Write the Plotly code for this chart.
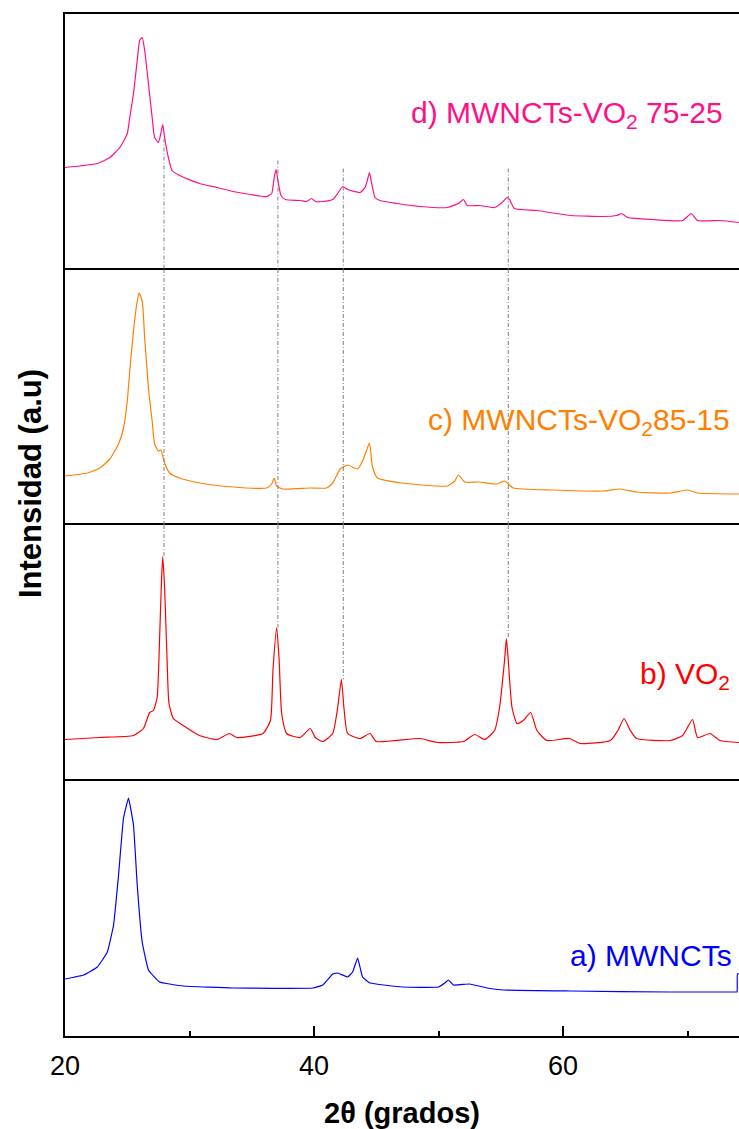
import plotly.graph_objects as go
from plotly.subplots import make_subplots

# ---------------- data (2theta in degrees, intensity in arbitrary units) ----------------
x_d = [20.0, 22.6, 23.6, 24.4, 25.0, 25.2, 25.5, 25.8, 26.0, 26.2, 26.4, 26.7, 27.0, 27.2, 27.5,
       27.7, 27.85, 28.0, 28.3, 28.6, 29.2, 30.8, 32.2, 33.5, 34.9, 36.2, 36.6, 36.8, 36.95, 37.1,
       37.35, 37.7, 38.9, 39.4, 39.8, 40.1, 40.7, 41.5, 41.9, 42.3, 42.7, 43.7, 44.1, 44.3, 44.45,
       44.6, 44.9, 45.3, 46.7, 48.5, 50.7, 51.6, 52.0, 52.3, 53.3, 54.5, 55.1, 55.5, 55.7, 56.1, 57.9,
       60.6, 63.2, 64.3, 64.7, 65.2, 67.2, 69.6, 70.3, 70.8, 72.6, 74.13]
y_d = [102, 106, 112, 122, 136, 152, 176, 209, 229, 232, 219, 186, 152, 132, 127,
       136, 145, 132, 112, 99, 94, 86, 82, 78, 75, 73, 76, 92, 100, 89,
       74, 70, 69, 68, 71, 68, 68, 70, 76, 83, 80, 77, 82, 90, 97,
       88, 72, 69, 66, 63, 62, 66, 70, 64, 64, 62, 67, 72, 70, 61, 59,
       54, 53, 54, 56, 52, 50, 49, 56, 49, 49, 47]

x_c = [20.0, 21.8, 22.8, 23.6, 24.3, 24.7, 25.0, 25.2, 25.5, 25.8, 25.95, 26.2, 26.4, 26.7, 27.0,
       27.2, 27.5, 27.7, 28.0, 28.4, 29.2, 30.8, 33.5, 36.2, 36.6, 36.8, 37.0, 37.5, 39.7, 41.0,
       41.5, 42.1, 42.7, 43.5, 43.9, 44.2, 44.45, 44.7, 45.1, 47.1, 50.7, 51.3, 51.6, 52.1, 53.3,
       54.7, 55.3, 56.0, 59.2, 63.2, 64.6, 65.9, 68.6, 70.0, 70.8, 74.13]
y_c = [49, 52, 57, 66, 81, 97, 124, 154, 194, 224, 232, 224, 187, 137, 104,
       81, 74, 75, 62, 52, 47, 42, 38, 37, 41, 47, 39, 36, 37, 37,
       42, 56, 60, 56, 64, 74, 82, 58, 47, 42, 39, 44, 50, 43, 43,
       41, 44, 37, 35, 34, 36, 33, 32, 35, 32, 31]

x_b = [20.0, 22.8, 25.5, 26.3, 26.8, 27.1, 27.4, 27.6, 27.75, 27.85, 28.0, 28.2, 28.35, 28.7, 29.5,
       30.8, 32.2, 33.2, 33.8, 35.9, 36.5, 36.7, 37.0, 37.2, 37.4, 37.8, 38.9, 39.7, 40.1, 40.7,
       41.5, 41.9, 42.2, 42.4, 42.7, 43.7, 44.5, 45.0, 48.5, 49.9, 52.0, 52.9, 53.7, 54.5, 54.9,
       55.3, 55.45, 55.6, 55.9, 56.3, 56.8, 57.4, 57.9, 58.7, 60.5, 61.4, 63.8, 64.4, 64.9, 65.4,
       65.9, 68.6, 69.6, 70.4, 70.8, 71.8, 72.6, 74.13]
y_b = [41, 43, 45, 52, 68, 70, 83, 143, 200, 224, 193, 120, 77, 62, 55,
       45, 41, 47, 43, 47, 60, 110, 153, 120, 67, 47, 43, 52, 43, 39,
       47, 73, 101, 73, 47, 42, 47, 39, 42, 38, 39, 46, 41, 50, 73,
       120, 142, 120, 73, 57, 60, 68, 50, 40, 42, 37, 40, 50, 62, 50,
       42, 40, 45, 61, 43, 47, 40, 38]

x_a = [20.0, 21.5, 22.6, 23.4, 23.9, 24.3, 24.7, 25.1, 25.5, 25.8, 26.2, 26.7, 27.6, 29.5, 33.5,
       39.9, 40.7, 41.5, 41.9, 42.7, 43.1, 43.5, 43.9, 44.5, 47.1, 50.0, 50.5, 50.8, 51.2, 52.5,
       53.9, 55.2, 60.6, 68.6, 73.9, 73.98, 74.0, 74.13]
y_a = [57, 61, 69, 84, 111, 161, 218, 238, 211, 151, 94, 66, 54, 50, 48,
       48, 51, 62, 63, 59, 64, 78, 59, 53, 49, 49, 53, 56, 51, 52,
       48, 46, 45, 44, 44, 44, 62, 62]

# reference lines linking VO2 reflections across patterns
ref_pos = [27.95, 37.1, 42.35, 55.6]
ref_start_d = [131, 109, 101, 101]   # where the guide starts in pattern d
ref_end_b = [224, 153, 101, 142]     # where the guide ends in pattern b

# label, x, y, colour, label x, label y, label anchor, spline smoothing
panels = [
    ("d) MWNCTs-VO<sub>2</sub> 75-25", x_d, y_d, "#FF1088", 73.0, 155, "right", 0.5),
    ("c) MWNCTs-VO<sub>2</sub>85-15", x_c, y_c, "#FF8000", 73.6, 104, "right", 0.5),
    ("b) VO<sub>2</sub>", x_b, y_b, "#FF0000", 73.6, 105, "right", 0.5),
    ("a) MWNCTs", x_a, y_a, "#0000FF", 60.4, 81, "left", 0.3),
]

x_range = [20, 74.13]
y_range = [0, 255.5]

FONT = "Arial, Liberation Sans, sans-serif"

fig = make_subplots(rows=4, cols=1, shared_xaxes=True, vertical_spacing=0)

for i, (label, xs, ys, col, lx, ly, anc, sm) in enumerate(panels):
    r = i + 1
    fig.add_trace(go.Scatter(x=xs, y=ys, mode="lines",
                             line=dict(color=col, width=1.2, shape="spline", smoothing=sm),
                             showlegend=False, hoverinfo="skip"), row=r, col=1)
    yname = "y" if r == 1 else f"y{r}"
    fig.add_annotation(x=lx, y=ly, xref="x" if r == 1 else f"x{r}", yref=yname,
                       text=label, showarrow=False, xanchor=anc, yanchor="middle",
                       font=dict(family=FONT, size=30, color=col))
    fig.update_yaxes(range=y_range, showline=True, linewidth=2, linecolor="black",
                     showgrid=False, zeroline=False, showticklabels=False, ticks="",
                     row=r, col=1)
    if r < 4:
        fig.update_xaxes(range=x_range, showline=True, mirror=False, side="top", linewidth=2,
                         linecolor="black", showgrid=False, zeroline=False, row=r, col=1,
                         showticklabels=False, ticks="")
    else:
        fig.update_xaxes(range=x_range, showline=True, mirror=True, linewidth=2,
                         linecolor="black", showgrid=False, zeroline=False, row=r, col=1,
                         showticklabels=True, ticks="inside")

# guide lines
dash = "4px,2px,1px,2px"
gl = dict(color="#808080", width=1, dash=dash)
for xp, ys0, ye in zip(ref_pos, ref_start_d, ref_end_b):
    fig.add_shape(type="line", xref="x", yref="y", x0=xp, x1=xp, y0=ys0, y1=y_range[0], line=gl)
    fig.add_shape(type="line", xref="x2", yref="y2 domain", x0=xp, x1=xp, y0=0, y1=1, line=gl)
    fig.add_shape(type="line", xref="x3", yref="y3", x0=xp, x1=xp, y0=y_range[1], y1=ye, line=gl)

fig.update_xaxes(row=4, col=1, tick0=20, dtick=20, ticklen=10, tickwidth=2, tickcolor="black",
                 ticklabelstandoff=5,
                 tickfont=dict(family=FONT, size=27, color="black"),
                 minor=dict(ticks="inside", dtick=10, tick0=20, ticklen=5, tickwidth=2,
                            tickcolor="black", showgrid=False),
                 title=dict(text="<b>2θ (grados)</b>", standoff=22,
                            font=dict(family=FONT, size=29, color="black")))

fig.add_annotation(xref="paper", yref="paper", x=-0.052, y=0.541, text="<b>Intensidad (a.u)</b>",
                   textangle=-90, showarrow=False, xanchor="center", yanchor="middle",
                   font=dict(family=FONT, size=31, color="black"))

fig.update_layout(width=739, height=1129, margin=dict(l=65, r=0, t=14, b=93),
                  plot_bgcolor="white", paper_bgcolor="white", showlegend=False)

# remove the default page margin so the figure fills the window exactly
fig.write_html("out.html", config={"displayModeBar": False},
               post_script="document.body.style.margin='0';document.body.style.overflow='hidden';")
